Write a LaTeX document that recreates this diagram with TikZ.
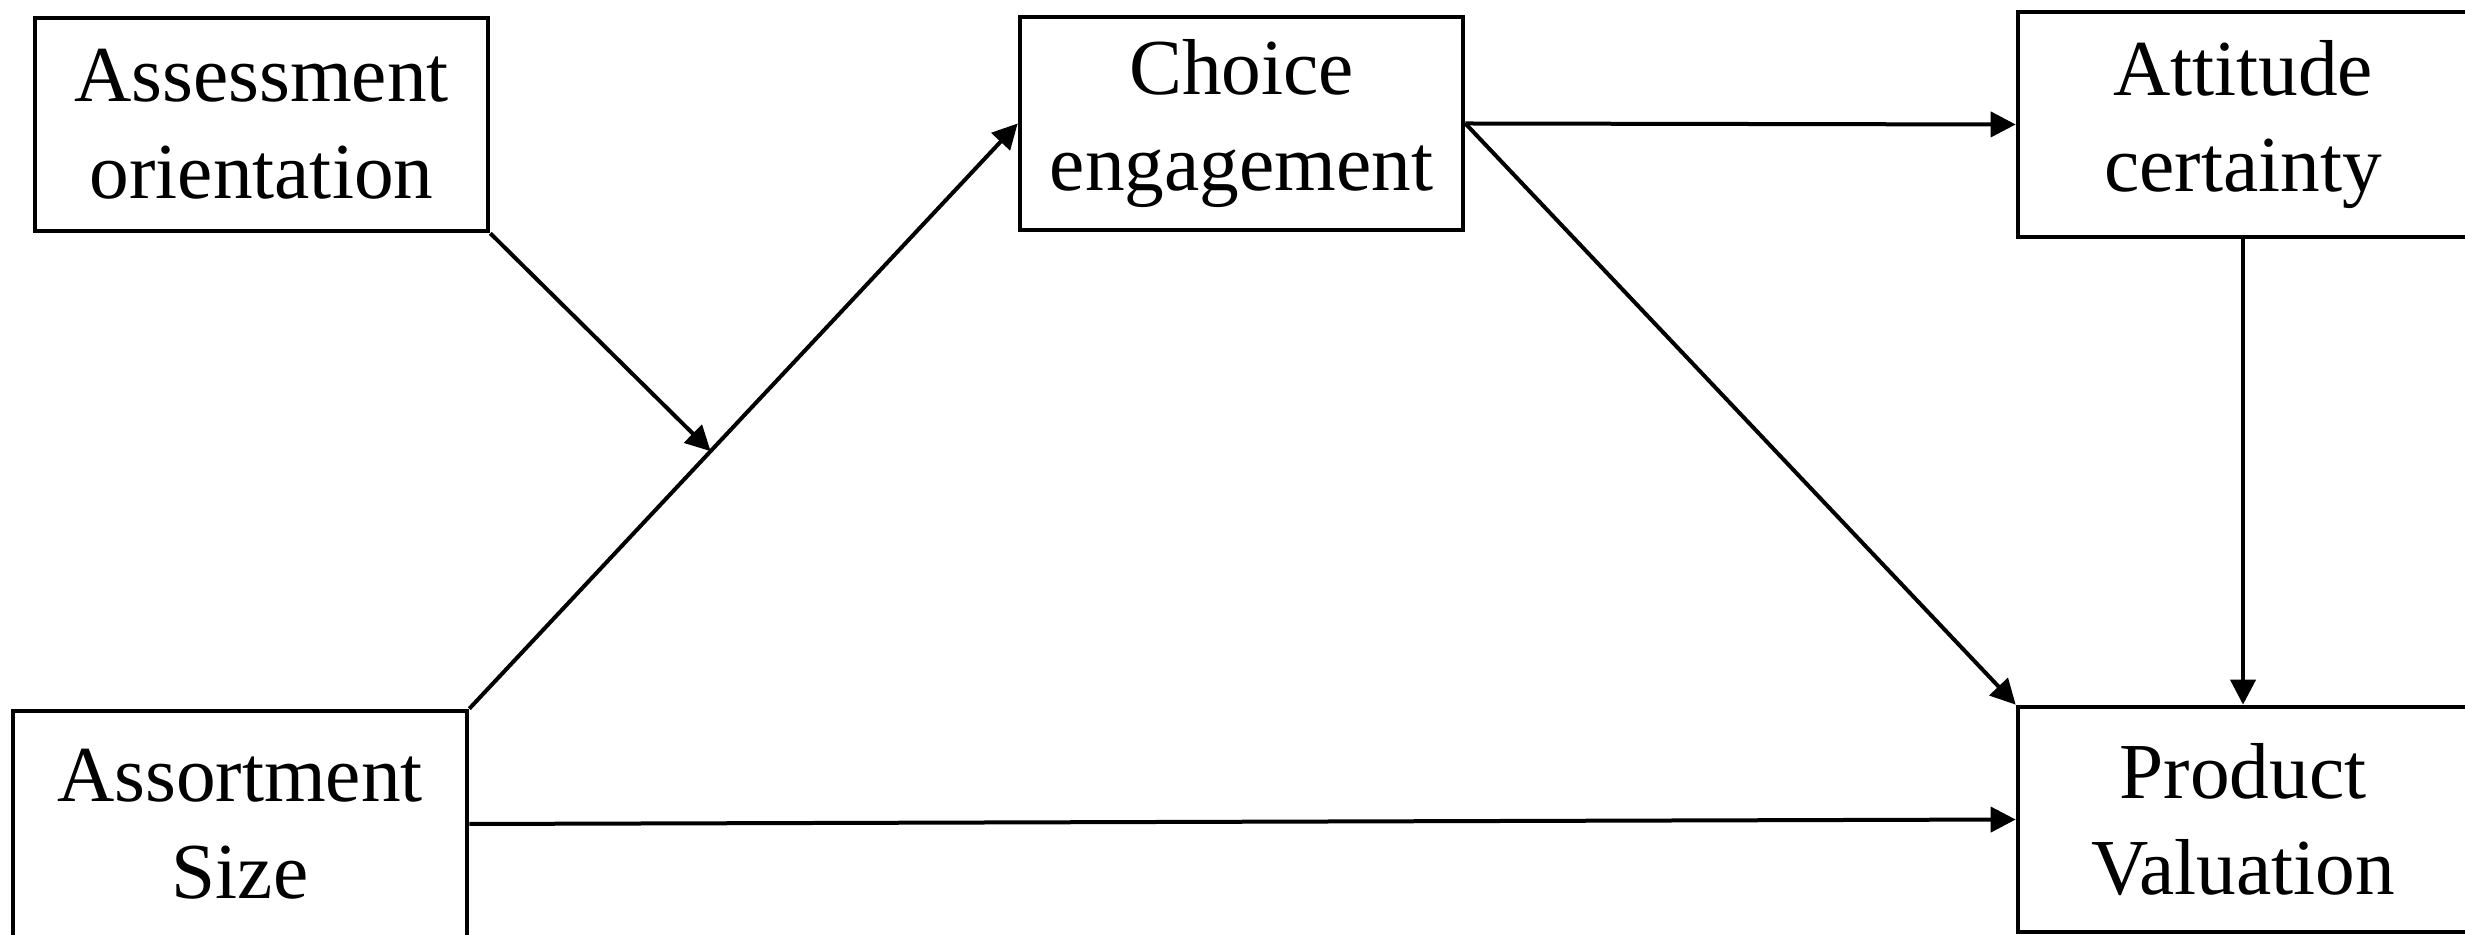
\documentclass[tikz,border=0pt]{standalone}
\usepackage{fontspec}
\setmainfont{Liberation Serif}
\usetikzlibrary{arrows.meta}
\tikzstyle{box} = [draw, rectangle, line width=1.4pt, align=center, inner sep=0pt, font=\fontsize{23.8}{29}\selectfont]
\tikzstyle{path} = [-{Triangle[length=7.5pt, width=7.5pt]}, line width=1.2pt]

\begin{document}
\begin{tikzpicture}[x=0.3pt, y=-0.3pt]
    \useasboundingbox (0, 0) rectangle (2465, 935);
    \clip (0, 0) rectangle (2465, 935);

    % Boxes.
    \node (assessment) [box, minimum width=135.9pt, minimum height=63.9pt] at (261.5, 124.5) {Assessment\\orientation};
    \node (choice) [box, minimum width=132.9pt, minimum height=63.9pt] at (1241.5, 123.5) {Choice\\engagement};
    \node (attitude) [box, minimum width=135pt, minimum height=67.5pt] at (2243, 124.5) {Attitude\\certainty};
    \node (assortment) [box, minimum width=136.2pt, minimum height=67.8pt] at (240, 824) {Assortment\\Size};
    \node (product) [box, minimum width=135pt, minimum height=67.5pt] at (2243, 819.5) {Product\\Valuation};

    % Paths.
    \draw [path] (assortment.north east) -- coordinate[pos=0.44] (moderation) (choice.west);
    \draw [path] (assessment.south east) -- (moderation);
    \draw [path] (choice.east) -- (attitude.west);
    \draw [path] (choice.east) -- (product.north west);
    \draw [path] (attitude.south) -- (product.north);
    \draw [path] (assortment.east) -- (product.west);
\end{tikzpicture}
\end{document}
